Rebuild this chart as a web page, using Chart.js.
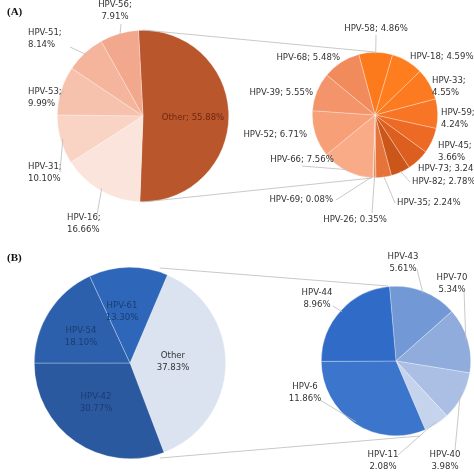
<!DOCTYPE html>
<html><head><meta charset="utf-8">
<script src="https://cdn.jsdelivr.net/npm/chart.js@4"></script>
<style>body{margin:0;background:#fff;width:474px;height:472px;position:relative;overflow:hidden}canvas{position:absolute}</style>
</head><body>
<canvas id="a1"></canvas><canvas id="a2"></canvas><canvas id="b1"></canvas><canvas id="b2"></canvas>
<canvas id="ov" width="474" height="472" style="left:0;top:0"></canvas>
<script>
const aMainLabels=['Other','HPV-16','HPV-31','HPV-53','HPV-51','HPV-56'];
const aMainValues=[55.88,16.66,10.10,9.99,8.14,7.91];
const aSubLabels=['HPV-58','HPV-18','HPV-33','HPV-59','HPV-45','HPV-73','HPV-82','HPV-35','HPV-26','HPV-69','HPV-66','HPV-52','HPV-39','HPV-68'];
const aSubValues=[4.86,4.59,4.55,4.24,3.66,3.24,2.78,2.24,0.35,0.08,7.56,6.71,5.55,5.48];
const bMainLabels=['Other','HPV-42','HPV-54','HPV-61'];
const bMainValues=[37.83,30.77,18.10,13.30];
const bSubLabels=['HPV-43','HPV-70','HPV-40','HPV-11','HPV-6','HPV-44'];
const bSubValues=[5.61,5.34,3.98,2.08,11.86,8.96];

const aMainColors=['#b9562c','#fbe4db','#f9d4c5','#f7c2ad','#f5b59d','#f2a88c'];
const aSubColors=['#fd7a1c','#fe7e1f','#fc7b20','#f87526','#ec6a24','#dc5f20','#cb561a','#e6733a','#ea8a5a','#f0a07a','#f9ab88','#f79f76','#f4946a','#f18b5c'];
const bMainColors=['#dce3f0','#2a599f','#2c60ad','#2e67ba'];
const bSubColors=['#7398d6','#90acdc','#abbee4','#c6d3ec','#3b76cc','#2f6bc7'];

const charts={};
function mk(id,cx,cy,r,labels,values,colors,rot){
  const c=document.getElementById(id);
  c.width=2*r;c.height=2*r;c.style.left=(cx-r)+'px';c.style.top=(cy-r)+'px';
  charts[id]=new Chart(c,{type:'pie',data:{labels,datasets:[{data:values,backgroundColor:colors,borderColor:'rgba(255,255,255,0.5)',borderWidth:0.6}]},
    options:{responsive:false,animation:false,rotation:rot,layout:{padding:0},plugins:{legend:{display:false},tooltip:{enabled:false}}}});
  return {cx,cy,r,chart:charts[id]};
}
const A1=mk('a1',143,116,86,aMainLabels,aMainValues,aMainColors,-3);
const A2=mk('a2',375,115,63,aSubLabels,aSubValues,aSubColors,-15);
const B1=mk('b1',130,363,96,bMainLabels,bMainValues,bMainColors,23);
const B2=mk('b2',396,361,75,bSubLabels,bSubValues,bSubColors,-5);

function anchor(P,i,f){
  const a=P.chart.getDatasetMeta(0).data[i];
  const m=(a.startAngle+a.endAngle)/2, rr=P.r*(f||1);
  return [P.cx+Math.cos(m)*rr,P.cy+Math.sin(m)*rr];
}
const ctx=document.getElementById('ov').getContext('2d');
ctx.strokeStyle='#bbb';ctx.lineWidth=0.8;
function line(x1,y1,x2,y2){ctx.beginPath();ctx.moveTo(x1,y1);ctx.lineTo(x2,y2);ctx.stroke();}
line(143,30,375,52);line(143,202,372,178);
line(160,268,388,286);line(160,458,420,436);
ctx.font='bold 11px "Liberation Serif"';ctx.fillStyle='#111';ctx.textBaseline='middle';
ctx.textAlign='left';ctx.fillText('(A)',7,12);ctx.fillText('(B)',7,258);
ctx.font='9.5px "DejaVu Sans Condensed", "DejaVu Sans"';
function lab(P,i,lines,x,y,align,lx,ly,color){
  ctx.fillStyle=color||'#333';ctx.textAlign=align;
  lines.forEach((t,k)=>ctx.fillText(t,x,y+k*12));
  if(lx!==undefined){const p=anchor(P,i,0.97);line(lx,ly,p[0],p[1]);}
}
const L=(labels,values,i,sep)=>labels[i]+sep+values[i].toFixed(2)+'%';
lab(A1,5,['HPV-56;','7.91%'],115,5,'center',121,24);
lab(A1,4,['HPV-51;','8.14%'],28,33,'left',70,47);
lab(A1,3,['HPV-53;','9.99%'],28,92,'left',60,97);
lab(A1,2,['HPV-31;','10.10%'],28,167,'left',60,172);
lab(A1,1,['HPV-16;','16.66%'],67,218,'left',97,215);
lab(A1,0,[L(aMainLabels,aMainValues,0,'; ')],193,118,'center',undefined,undefined,'#6e2810');
const subA=[[0,376,29,'center',376,35],[1,410,57,'left'],[2,432,81,'left'],[3,441,113,'left'],[4,438,146,'left'],
[5,418,169,'left'],[6,412,182,'left',410,182],[7,397,203,'left',395,203],[8,355,220,'center',372,213],[9,333,200,'right',336,200],
[10,302,160,'center',302,166],[11,307,135,'right'],[12,313,93,'right'],[13,340,58,'right']];
subA.forEach(s=>{const i=s[0];const v=aSubValues[i];
  const t=(i==2||i==3||i==4)?[aSubLabels[i]+';',v.toFixed(2)+'%']:[L(aSubLabels,aSubValues,i,'; ')];
  lab(A2,i,t,s[1],s[2],s[3],s[4],s[5]);});
const dk='#1c3c6e';
lab(B1,3,[bMainLabels[3],bMainValues[3].toFixed(2)+'%'],122,306,'center',undefined,undefined,dk);
lab(B1,2,[bMainLabels[2],bMainValues[2].toFixed(2)+'%'],81,331,'center',undefined,undefined,dk);
lab(B1,1,[bMainLabels[1],bMainValues[1].toFixed(2)+'%'],96,397,'center',undefined,undefined,dk);
lab(B1,0,[bMainLabels[0],bMainValues[0].toFixed(2)+'%'],173,356,'center',undefined,undefined,'#333');
const subB=[[0,403,257,417,269],[1,452,278,464,290],[5,317,293,333,306],[4,305,387,320,400],[3,383,455,398,455],[2,445,455,455,450]];
subB.forEach(s=>{const i=s[0];lab(B2,i,[bSubLabels[i],bSubValues[i].toFixed(2)+'%'],s[1],s[2],'center',s[3],s[4]);});
</script></body></html>
